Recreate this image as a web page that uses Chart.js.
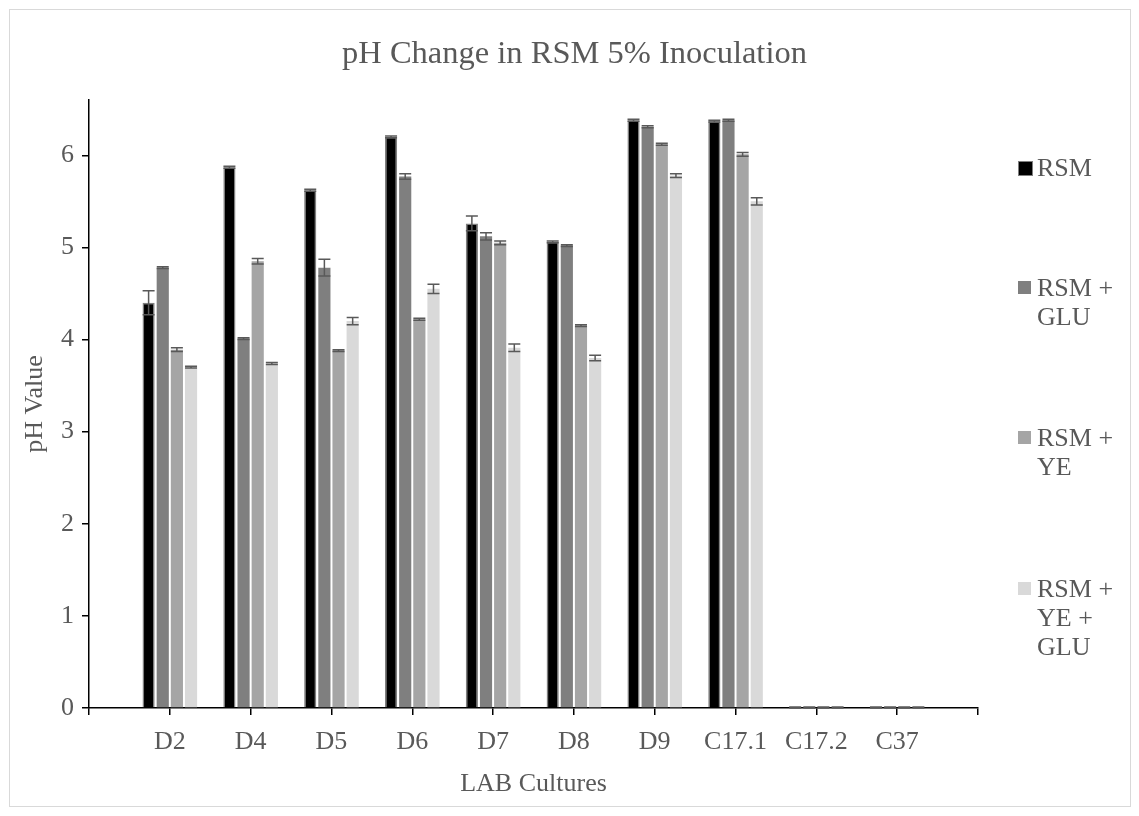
<!DOCTYPE html>
<html lang="en">
<head>
    <meta charset="UTF-8">
    <title>pH Change in RSM 5% Inoculation</title>
    <style>
        body { margin: 0; background: #ffffff; font-family: 'Liberation Serif', 'Times New Roman', serif; }
        .wrap { position: relative; width: 1139px; height: 816px; }
        canvas { position: absolute; left: 0; top: 0; }
        .frame { position: absolute; left: 9px; top: 9px; width: 1120px; height: 796px; border: 1px solid #d9d9d9; pointer-events: none; }
        .title { position: absolute; left: 10px; top: 32px; width: 1129px; text-align: center; font-size: 32.5px; line-height: 40px; color: #595959; }
        .legend { position: absolute; left: 1018px; top: 0; width: 121px; }
        .item { position: absolute; left: 0; font-size: 26px; line-height: 29px; color: #595959; }
        .item span.box { position: absolute; left: 0; top: 8px; width: 13px; height: 13px; }
        .item span.txt { display: block; margin-left: 19px; }
    </style>
</head>
<body>
<div class="wrap">
    <canvas id="phChart" width="1139" height="816"></canvas>
    <div class="frame"></div>
    <div class="title">pH Change in RSM 5% Inoculation</div>
    <div class="legend" id="legend"></div>
</div>

<script src="https://cdn.jsdelivr.net/npm/chart.js"></script>
<script>
    // values
    const categories = ['D2', 'D4', 'D5', 'D6', 'D7', 'D8', 'D9', 'C17.1', 'C17.2', 'C37'];
    const seriesNames = ['RSM', 'RSM + GLU', 'RSM + YE', 'RSM + YE + GLU'];
    const legendLines = [['RSM'], ['RSM +', 'GLU'], ['RSM +', 'YE'], ['RSM +', 'YE +', 'GLU']];

    const rsm      = [4.40, 5.87, 5.62, 6.20, 5.26, 5.06, 6.38, 6.37, 0, 0];
    const rsmGlu   = [4.78, 4.01, 4.78, 5.77, 5.12, 5.02, 6.31, 6.38, 0, 0];
    const rsmYe    = [3.89, 4.85, 3.88, 4.22, 5.05, 4.15, 6.12, 6.01, 0, 0];
    const rsmYeGlu = [3.70, 3.74, 4.20, 4.55, 3.91, 3.80, 5.78, 5.50, 0, 0];

    const rsmErr      = [0.13, 0.01, 0.01, 0.01, 0.08, 0.01, 0.01, 0.01, 0.01, 0.01];
    const rsmGluErr   = [0.01, 0.01, 0.09, 0.03, 0.04, 0.01, 0.01, 0.01, 0.01, 0.01];
    const rsmYeErr    = [0.02, 0.03, 0.01, 0.01, 0.02, 0.01, 0.01, 0.02, 0.01, 0.01];
    const rsmYeGluErr = [0.01, 0.01, 0.04, 0.05, 0.04, 0.03, 0.02, 0.04, 0.01, 0.01];

    const yTicks = [0, 1, 2, 3, 4, 5, 6];

    const fills = ['#000000', '#7f7f7f', '#a5a5a5', '#d9d9d9'];
    const textColor = '#595959';
    const fontFamily = "'Liberation Serif', 'Times New Roman', serif";

    // Excel puts the labels on the tick marks, so pad the category list at both ends
    const labels = [''].concat(categories, ['']);
    const pad = arr => [null].concat(arr, [null]);

    const allValues = [rsm, rsmGlu, rsmYe, rsmYeGlu];
    const allErrors = [rsmErr, rsmGluErr, rsmYeErr, rsmYeGluErr];

    const errorBars = {
        id: 'errorBars',
        afterDatasetsDraw(chart) {
            const ctx = chart.ctx;
            const y = chart.scales.y;
            ctx.save();
            ctx.strokeStyle = '#595959';
            ctx.lineWidth = 1.5;
            chart.data.datasets.forEach((ds, i) => {
                const meta = chart.getDatasetMeta(i);
                meta.data.forEach((bar, j) => {
                    const v = ds.data[j];
                    if (v === null) return;
                    const e = allErrors[i][j - 1];
                    const top = y.getPixelForValue(v + e);
                    const bot = y.getPixelForValue(Math.max(v - e, 0));
                    const half = 6;
                    ctx.beginPath();
                    ctx.moveTo(bar.x, top); ctx.lineTo(bar.x, bot);
                    ctx.moveTo(bar.x - half, top); ctx.lineTo(bar.x + half, top);
                    ctx.moveTo(bar.x - half, bot); ctx.lineTo(bar.x + half, bot);
                    ctx.stroke();
                });
            });
            ctx.restore();
        }
    };

    new Chart(document.getElementById('phChart'), {
        type: 'bar',
        data: {
            labels: labels,
            datasets: seriesNames.map((name, i) => ({
                label: name,
                data: pad(allValues[i]),
                backgroundColor: fills[i],
                borderColor: i === 0 ? '#7f7f7f' : fills[i],
                borderWidth: i === 0 ? 1.5 : 0,
                categoryPercentage: 0.7,
                barPercentage: 0.86
            }))
        },
        options: {
            responsive: false,
            animation: false,
            layout: { padding: { left: 0, right: 161, top: 100, bottom: 0 } },
            plugins: {
                legend: { display: false },
                tooltip: { enabled: false },
                title: { display: false }
            },
            scales: {
                x: {
                    offset: false,
                    grid: { display: true, offset: false, drawOnChartArea: false, drawTicks: true, tickLength: 7, color: '#000000', lineWidth: 1.5 },
                    border: { display: true, color: '#000000', width: 1.5 },
                    ticks: { color: textColor, font: { family: fontFamily, size: 26 }, padding: 12, maxRotation: 0, autoSkip: false },
                    title: { display: true, text: 'LAB Cultures', color: textColor, font: { family: fontFamily, size: 26 }, padding: { top: 2, bottom: 16 } },
                    afterFit(scale) { scale.height = 108; }
                },
                y: {
                    min: 0,
                    max: 6.6,
                    grid: { display: true, drawOnChartArea: false, drawTicks: true, tickLength: 7, color: '#000000', lineWidth: 1.5 },
                    border: { display: true, color: '#000000', width: 1.5 },
                    ticks: { color: textColor, font: { family: fontFamily, size: 26 }, padding: 8, stepSize: 1 },
                    afterBuildTicks(scale) { scale.ticks = yTicks.map(v => ({ value: v })); },
                    title: { display: true, text: 'pH Value', color: textColor, font: { family: fontFamily, size: 26 }, padding: { top: 20, bottom: 0 } },
                    afterFit(scale) { scale.width = 89; }
                }
            }
        },
        plugins: [errorBars]
    });

    // right-hand legend, entries spread down the plot height like Excel does
    const legendTops = [153, 273, 423, 574];
    const legendEl = document.getElementById('legend');
    legendLines.forEach((lines, i) => {
        const item = document.createElement('div');
        item.className = 'item';
        item.style.top = legendTops[i] + 'px';
        const box = document.createElement('span');
        box.className = 'box';
        box.style.background = fills[i];
        if (i === 0) box.style.border = '1px solid #7f7f7f';
        const txt = document.createElement('span');
        txt.className = 'txt';
        txt.innerHTML = lines.join('<br>');
        item.appendChild(box);
        item.appendChild(txt);
        legendEl.appendChild(item);
    });
</script>
</body>
</html>
